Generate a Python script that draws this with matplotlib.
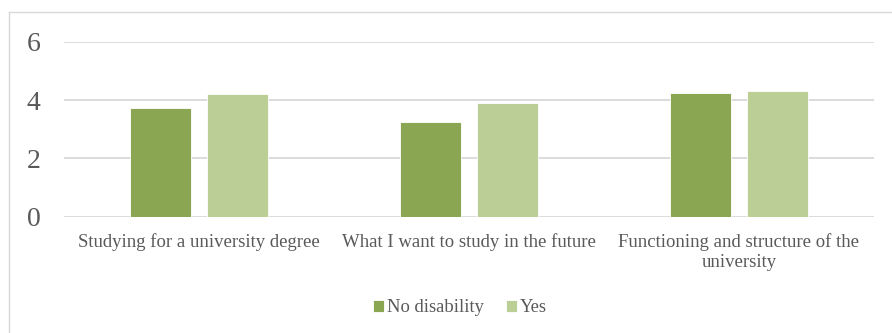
import matplotlib
matplotlib.use("Agg")
import matplotlib.pyplot as plt
import numpy as np
from matplotlib.lines import Line2D

categories = ["Studying for a university degree",
              "What I want to study in the future",
              "Functioning and structure of the\nuniversity"]
series_names = ["No disability", "Yes"]
no_disability = [3.74, 3.24, 4.24]
yes_values = [4.21, 3.89, 4.32]
y_ticks = [0, 2, 4, 6]

dark_green = "#8BA652"
light_green = "#BACE96"
text_gray = "#595959"
grid_gray = "#D9D9D9"

plt.rcParams["font.family"] = ["Liberation Serif", "DejaVu Serif"]

fig = plt.figure(figsize=(8.92, 3.33), dpi=100)
ax = fig.add_axes([64 / 892, 116.3 / 333, 810 / 892, 175 / 333])

x = np.arange(len(categories))
width = 0.226
offset = 0.144
b1 = ax.bar(x - offset, no_disability, width, color=dark_green,
            edgecolor="white", linewidth=0.6, label=series_names[0], zorder=3)
b2 = ax.bar(x + offset, yes_values, width, color=light_green,
            edgecolor="white", linewidth=0.6, label=series_names[1], zorder=3)

ax.set_xlim(-0.5, 2.5)
ax.set_ylim(0, 6)
ax.set_yticks(y_ticks)
ax.set_yticklabels([str(t) for t in y_ticks])
ax.set_xticks(x)
ax.set_xticklabels(categories, fontsize=13.5, color=text_gray, linespacing=1.25)
ax.tick_params(axis="y", length=0, pad=17, labelsize=20, labelcolor=text_gray)
ax.tick_params(axis="x", length=0, pad=12)
ax.yaxis.grid(True, color=grid_gray, linewidth=1.3, zorder=0)
ax.set_axisbelow(True)
for s in ax.spines.values():
    s.set_visible(False)

# chart border (left and top edges)
fig.add_artist(Line2D([8.5 / 892, 8.5 / 892], [0, 1 - 12 / 333],
                      transform=fig.transFigure, color=grid_gray, linewidth=1.0))
fig.add_artist(Line2D([8.5 / 892, 1], [1 - 12 / 333, 1 - 12 / 333],
                      transform=fig.transFigure, color=grid_gray, linewidth=1.0))

fig.legend(handles=[b1, b2], labels=series_names, loc="center",
           bbox_to_anchor=(460 / 892, 25 / 333), ncol=2, frameon=False,
           fontsize=13.4, labelcolor=text_gray, handlelength=0.6,
           handleheight=0.6, handletextpad=0.15, columnspacing=1.2)

fig.savefig("out.png", dpi=100)
